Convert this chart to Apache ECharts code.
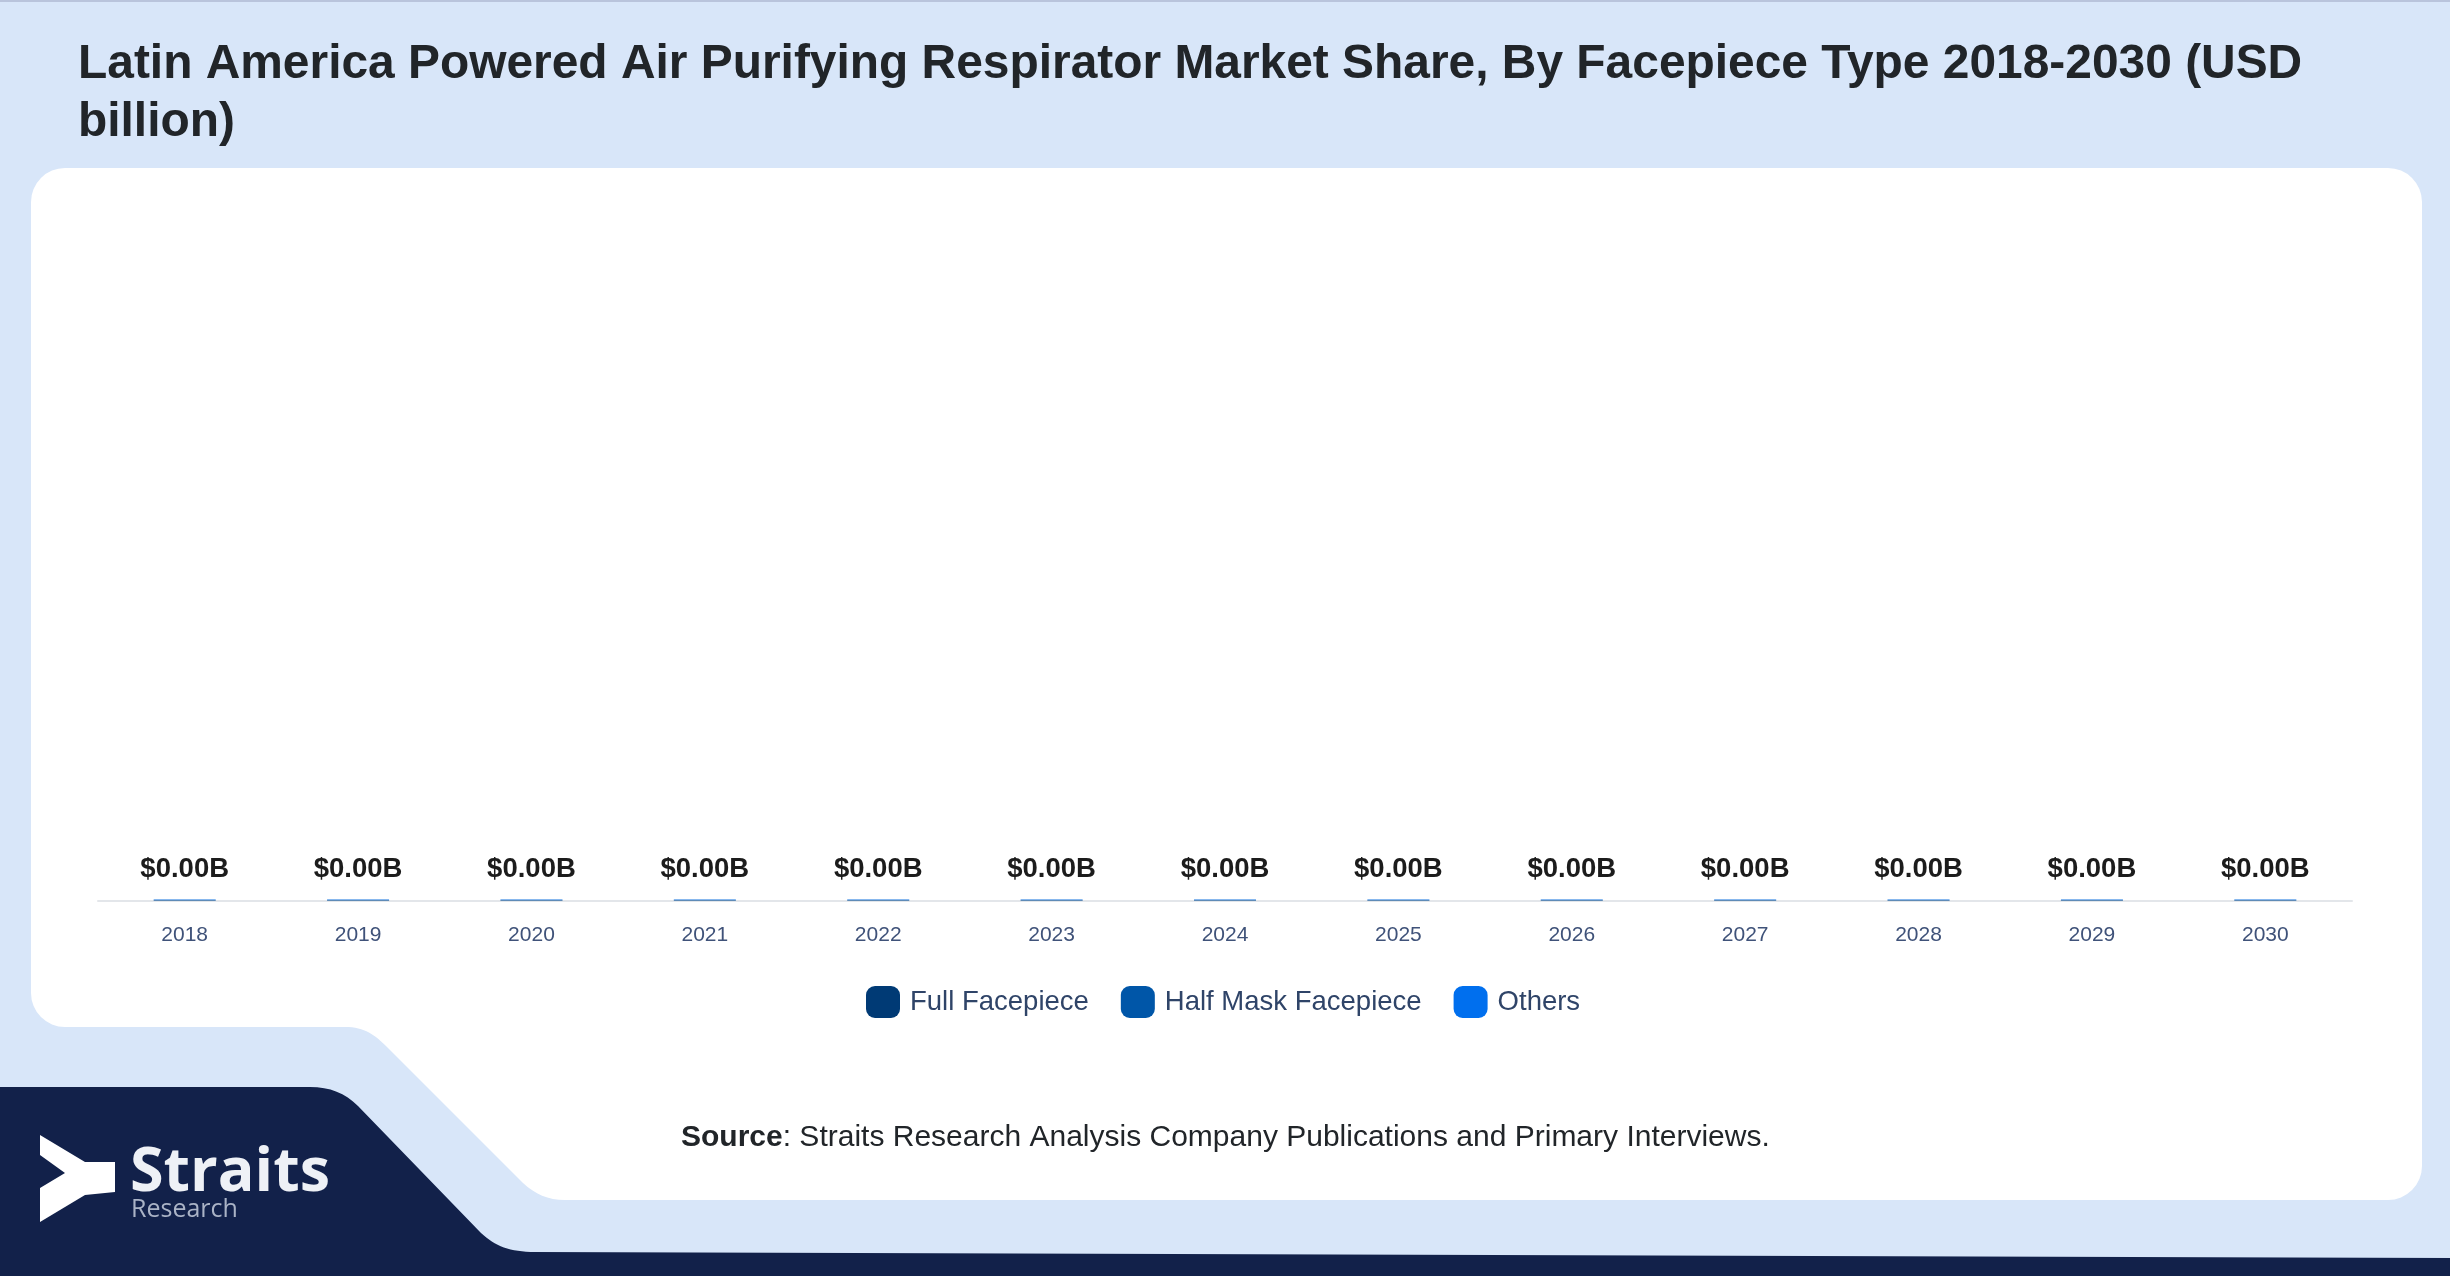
<!DOCTYPE html>
<html lang="en">
<head>
    <meta charset="UTF-8">
    <title>Latin America Powered Air Purifying Respirator Market Share</title>
    <script src="https://cdn.jsdelivr.net/npm/echarts@6/dist/echarts.min.js"></script>
    <style>
        * { margin: 0; padding: 0; }
        html, body { width: 2450px; height: 1276px; overflow: hidden; background: #d8e6f9; }
        #chart-container { width: 2450px; height: 1276px; }
    </style>
</head>
<body>
    <div id="chart-container"></div>
    <script>
        const years = ['2018', '2019', '2020', '2021', '2022', '2023', '2024', '2025', '2026', '2027', '2028', '2029', '2030'];
        // all labels read $0.00B, the values are only just above zero
        const fullFacepiece = [0.0007, 0.0007, 0.0007, 0.0007, 0.0007, 0.0007, 0.0007, 0.0007, 0.0007, 0.0007, 0.0007, 0.0007, 0.0007];
        const halfMaskFacepiece = [0.0012, 0.0012, 0.0012, 0.0012, 0.0012, 0.0012, 0.0012, 0.0012, 0.0012, 0.0012, 0.0012, 0.0012, 0.0012];
        const others = [0.0007, 0.0007, 0.0007, 0.0007, 0.0007, 0.0007, 0.0007, 0.0007, 0.0007, 0.0007, 0.0007, 0.0007, 0.0007];

        // page furniture: white card with the cut-out corner, navy footer
        echarts.graphic.registerShape('card', echarts.graphic.extendPath(
            'M66,168H2388A34,34 0 0 1 2422,202V1166A34,34 0 0 1 2388,1200H565C548,1200 535,1194 523,1183L387,1047C375,1035 365,1027 345,1027H65A34,34 0 0 1 31,993V202A34,34 0 0 1 66,168Z'
        ));
        echarts.graphic.registerShape('footer', echarts.graphic.extendPath(
            'M0,1087H310C330,1087 345,1093 358,1106L481,1233C495,1246 510,1252 535,1252L2450,1258V1276H0Z'
        ));

        const swatch = 'path://M9,0H25A9,9 0 0 1 34,9V23A9,9 0 0 1 25,32H9A9,9 0 0 1 0,23V9A9,9 0 0 1 9,0Z';
        const chart = echarts.init(document.getElementById('chart-container'), null, { renderer: 'canvas' });

        function barSeries(name, data, color) {
            return {
                name, data, type: 'bar', stack: 'total', barWidth: 62,
                itemStyle: { color, opacity: 0.7 },
                silent: true
            };
        }

        const series = [
            barSeries('Full Facepiece', fullFacepiece, '#003a75'),
            barSeries('Half Mask Facepiece', halfMaskFacepiece, '#0056a8'),
            barSeries('Others', others, '#006fee')
        ];
        series[2].label = {
            show: true,
            position: 'top',
            distance: 16,
            opacity: 1,
            fontFamily: 'Liberation Sans',
            fontSize: 27.5,
            fontWeight: 'bold',
            color: '#1c1c1c',
            formatter: p => '$' + (fullFacepiece[p.dataIndex] + halfMaskFacepiece[p.dataIndex] + others[p.dataIndex]).toFixed(2) + 'B'
        };

        chart.setOption({
            animation: false,
            backgroundColor: '#d8e6f9',
            title: {
                text: 'Latin America Powered Air Purifying Respirator Market Share, By Facepiece Type 2018-2030 (USD\nbillion)',
                left: 73,
                top: 31,
                textStyle: { fontFamily: 'Liberation Sans', fontSize: 47.9, fontWeight: 'bold', color: '#212529', lineHeight: 58 }
            },
            grid: { left: 98, right: 98, top: 190, bottom: 375 },
            xAxis: {
                type: 'category',
                data: years,
                axisTick: { show: false },
                axisLine: { lineStyle: { color: '#e3e6ea', width: 2 } },
                axisLabel: { fontFamily: 'Liberation Sans', fontSize: 21, color: '#3f5279', margin: 24 }
            },
            yAxis: { type: 'value', min: 0, max: 1, show: false },
            legend: {
                left: 861,
                top: 981,
                itemWidth: 34,
                itemHeight: 32,
                itemGap: 32,
                icon: swatch,
                itemStyle: { opacity: 1 },
                textStyle: { fontFamily: 'Liberation Sans', fontSize: 27.5, color: '#2f4468', padding: [0, 0, 0, 5] }
            },
            series,
            graphic: [
                { type: 'card', z: -10, silent: true, style: { fill: '#ffffff' } },
                { type: 'footer', z: -9, silent: true, style: { fill: '#12214a' } },
                { type: 'rect', z: -9, silent: true, shape: { x: 0, y: 0, width: 2450, height: 2 }, style: { fill: '#b9c4dc' } },
                // logo
                {
                    type: 'polygon', z: 5, silent: true,
                    shape: { points: [[40, 1135], [85, 1162], [115, 1162], [115, 1192], [85, 1195], [40, 1222], [40, 1188], [65, 1173], [40, 1155]] },
                    style: { fill: '#ffffff' }
                },
                { type: 'text', z: 5, silent: true, left: 130, top: 1143, style: { text: 'Straits', fontFamily: 'Open Sans', fontSize: 61, fontWeight: 'bold', fill: '#eef1f6' } },
                { type: 'text', z: 5, silent: true, left: 131, top: 1197, style: { text: 'Research', fontFamily: 'Open Sans', fontSize: 25, fill: '#aab3c6' } },
                // source line
                {
                    type: 'text', z: 5, silent: true, left: 681, top: 1123,
                    style: {
                        text: '{b|Source}: Straits Research Analysis Company Publications and Primary Interviews.',
                        fontFamily: 'Liberation Sans', fontSize: 30, fill: '#212529',
                        rich: { b: { fontFamily: 'Liberation Sans', fontSize: 30, fontWeight: 'bold', fill: '#212529' } }
                    }
                }
            ]
        });
        window.addEventListener('resize', chart.resize);
    </script>
</body>
</html>
